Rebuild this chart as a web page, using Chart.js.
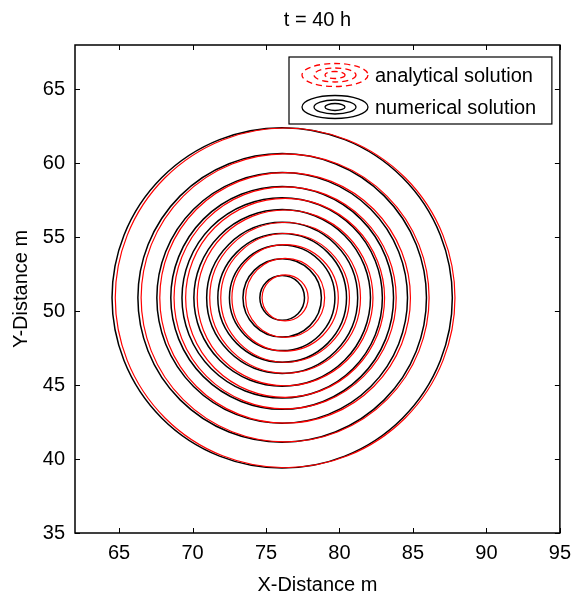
<!DOCTYPE html>
<html>
<head>
<meta charset="utf-8">
<script src="https://cdn.jsdelivr.net/npm/chart.js@4.4.1/dist/chart.umd.min.js"></script>
<style>
  html, body { margin: 0; padding: 0; background: #fff; }
  #wrap { width: 579px; height: 597px; }
</style>
</head>
<body>
<div id="wrap"><canvas id="plume"></canvas></div>
<script>
// axis ticks
const xTicks = [65, 70, 75, 80, 85, 90, 95];
const yTicks = [35, 40, 45, 50, 55, 60, 65];

// contour rings at t = 40 h, centre [x, y] and ring radius in metres
const analyticalCenter = [76.3, 50.9];
const analyticalRadii = [11.56, 9.80, 8.53, 7.56, 6.77, 5.98, 5.13, 4.38, 3.62, 2.69, 1.57];
const numericalCenter = [76.1, 50.9];
const numericalRadii = [11.58, 9.82, 8.53, 7.58, 6.82, 6.01, 5.14, 4.38, 3.59, 2.67, 1.52];

const FONT = "'Liberation Sans', Arial, Helvetica, sans-serif";

function rings(center, radii) {
  return radii.map(r => ({ x: center[0], y: center[1], rad: r }));
}

// radius in pixels, taken from the x scale
function ringRadius(ctx) {
  const s = ctx.chart.scales.x;
  const d = ctx.raw;
  if (!s || !d) return 0;
  return Math.abs(s.getPixelForValue(d.x + d.rad) - s.getPixelForValue(d.x));
}

// box around the axes with inward ticks on every side, like a matlab figure
const axesBox = {
  id: 'axesBox',
  afterDraw(chart) {
    const { ctx, chartArea: a, scales: { x, y } } = chart;
    const tl = 5;
    ctx.save();
    ctx.strokeStyle = '#000';
    ctx.lineWidth = 1;
    ctx.beginPath();
    x.ticks.forEach(t => {
      const px = Math.round(x.getPixelForValue(t.value)) + 0.5;
      ctx.moveTo(px, a.bottom); ctx.lineTo(px, a.bottom - tl);
      ctx.moveTo(px, a.top); ctx.lineTo(px, a.top + tl);
    });
    y.ticks.forEach(t => {
      const py = Math.round(y.getPixelForValue(t.value)) + 0.5;
      ctx.moveTo(a.left, py); ctx.lineTo(a.left + tl, py);
      ctx.moveTo(a.right, py); ctx.lineTo(a.right - tl, py);
    });
    ctx.stroke();
    ctx.lineWidth = 1.5;
    ctx.strokeRect(a.left, a.top, a.right - a.left, a.bottom - a.top);
    ctx.restore();
  }
};

// legend box with little contour icons
const contourLegend = {
  id: 'contourLegend',
  afterDraw(chart) {
    const { ctx, chartArea: a } = chart;
    const bx = 289, by = 57, bw = a.right - 8 - bx, bh = 67;
    ctx.save();
    ctx.fillStyle = '#fff';
    ctx.fillRect(bx, by, bw, bh);
    ctx.strokeStyle = '#000';
    ctx.lineWidth = 1.2;
    ctx.strokeRect(bx, by, bw, bh);

    const entries = [
      { text: 'analytical solution', color: '#ff0000', dash: [6, 4], cy: by + 18 },
      { text: 'numerical solution', color: '#000', dash: [], cy: by + 50 }
    ];
    entries.forEach(e => {
      const cx = bx + 46;
      ctx.strokeStyle = e.color;
      ctx.lineWidth = 1.3;
      ctx.setLineDash(e.dash);
      [[33, 11.5], [21, 7], [10, 3.5]].forEach(([rx, ry]) => {
        ctx.beginPath();
        ctx.ellipse(cx, e.cy, rx, ry, 0, 0, Math.PI * 2);
        ctx.stroke();
      });
      ctx.setLineDash([]);
      ctx.fillStyle = '#000';
      ctx.font = '20px ' + FONT;
      ctx.textBaseline = 'middle';
      ctx.textAlign = 'left';
      ctx.fillText(e.text, bx + 86, e.cy + 1);
    });
    ctx.restore();
  }
};

new Chart(document.getElementById('plume'), {
  type: 'scatter',
  data: {
    datasets: [
      {
        label: 'analytical solution',
        data: rings(analyticalCenter, analyticalRadii),
        pointRadius: ringRadius,
        pointBorderColor: '#ff0000',
        pointBackgroundColor: 'rgba(0,0,0,0)',
        pointBorderWidth: 1.2
      },
      {
        label: 'numerical solution',
        data: rings(numericalCenter, numericalRadii),
        pointRadius: ringRadius,
        pointBorderColor: '#000',
        pointBackgroundColor: 'rgba(0,0,0,0)',
        pointBorderWidth: 1.5
      }
    ]
  },
  options: {
    responsive: true,
    maintainAspectRatio: false,
    animation: false,
    events: [],
    layout: { padding: { left: 0, right: 14, top: 0, bottom: 0 } },
    plugins: {
      legend: { display: false },
      tooltip: { enabled: false },
      title: {
        display: true,
        text: 't = 40 h',
        fullSize: false,
        color: '#000',
        font: { family: FONT, size: 20, weight: 'normal' },
        padding: { top: 8, bottom: 13 }
      }
    },
    scales: {
      x: {
        type: 'linear',
        position: 'bottom',
        min: 62,
        max: 95,
        afterBuildTicks: s => { s.ticks = xTicks.map(v => ({ value: v })); },
        afterFit: s => { s.height = 64; },
        grid: { display: false, drawTicks: false },
        border: { display: false },
        ticks: { color: '#000', padding: 8, font: { family: FONT, size: 20 } },
        title: {
          display: true,
          text: 'X-Distance m',
          color: '#000',
          font: { family: FONT, size: 20 },
          padding: { top: 14, bottom: 0 }
        }
      },
      y: {
        type: 'linear',
        min: 35,
        max: 68,
        afterBuildTicks: s => { s.ticks = yTicks.map(v => ({ value: v })); },
        afterFit: s => { s.width = 75; },
        grid: { display: false, drawTicks: false },
        border: { display: false },
        ticks: { color: '#000', padding: 10, font: { family: FONT, size: 20 } },
        title: {
          display: true,
          text: 'Y-Distance m',
          color: '#000',
          font: { family: FONT, size: 20 },
          padding: { top: 9, bottom: 0 }
        }
      }
    }
  },
  plugins: [axesBox, contourLegend]
});
</script>
</body>
</html>
